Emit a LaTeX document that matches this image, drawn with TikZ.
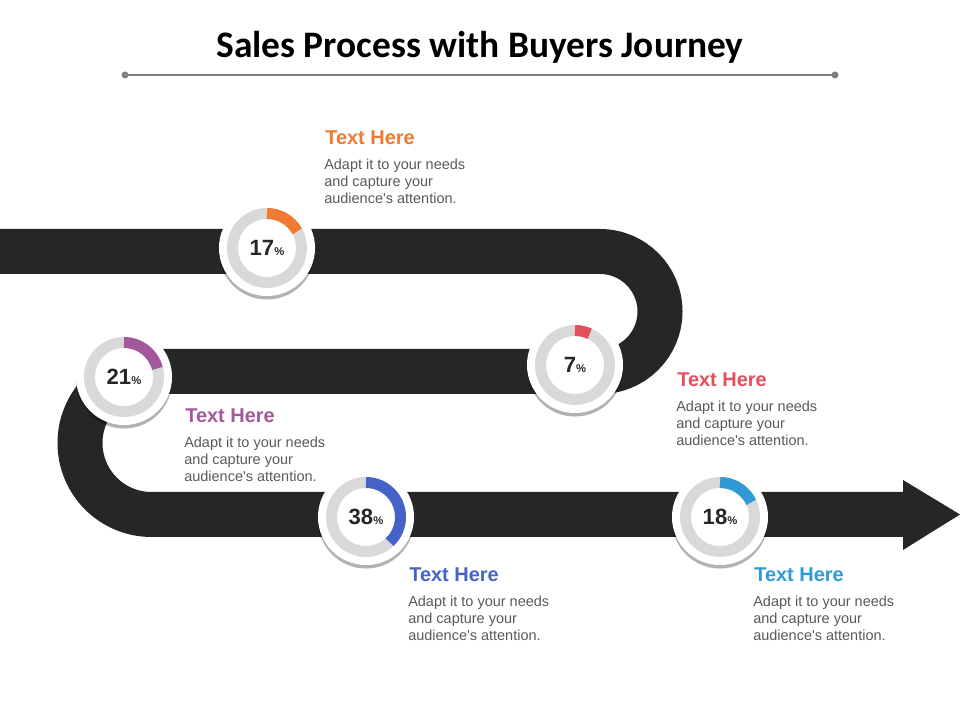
\documentclass[tikz,border=0pt]{standalone}
\usepackage{fontspec}
\setmainfont{Liberation Sans}
\newfontfamily\titlefont{Carlito}
\usetikzlibrary{shadows}

\definecolor{roadgray}{HTML}{262626}
\definecolor{ringgray}{HTML}{D9D9D9}
\definecolor{bodygray}{HTML}{595959}
\definecolor{rulegray}{HTML}{808080}
\definecolor{cOrange}{HTML}{EF7A32}
\definecolor{cRed}{HTML}{E3505A}
\definecolor{cPurple}{HTML}{A3579C}
\definecolor{cBlue}{HTML}{4563C6}
\definecolor{cSky}{HTML}{2F9AD4}

\tikzset{
  road/.style={draw=roadgray, line width=32pt},
  disc/.style={circle, fill=white, inner sep=0pt, minimum size=68.3pt,
    font=\bfseries\fontsize{15.7}{16}\selectfont, text=roadgray,
    drop shadow={shadow xshift=0pt, shadow yshift=-2.5pt, opacity=0.3, fill=black}},
  ring/.style={line width=7.8pt},
  head/.style={inner sep=0pt, font=\bfseries\fontsize{14.2}{16}\selectfont},
  body/.style={inner sep=0pt, align=left, text=bodygray,
    font=\fontsize{10.3}{12}\selectfont},
}

\begin{document}
\begin{tikzpicture}[x=0.025cm, y=0.025cm]
\useasboundingbox (0,0) rectangle (960,720);

% title
\node[font=\titlefont\bfseries\fontsize{26.6}{30}\selectfont] (title) at (480,673) {Sales Process with Buyers Journey};
\coordinate (rl) at (125,645);
\coordinate (rr) at (835,645);
\draw[rulegray, line width=1.4pt] (rl) -- (rr);
\fill[rulegray] (rl) circle (3.5) (rr) circle (3.5);

% road
\draw[road] (0,468.5) -- (600,468.5) arc[start angle=90, end angle=-90, radius=60]
  -- (151.5,348.5) arc[start angle=90, end angle=270, radius=71.5] -- (904,205.5);
\fill[roadgray] (903,240) -- (960,205.5) -- (903,170) -- cycle;

% donuts
\foreach \n/\x/\y/\p/\c in {a/267/472/17/cOrange, b/575/355/7/cRed, c/124/343/21/cPurple,
    d/366/203/38/cBlue, e/720/203/18/cSky}{
  \node[disc] (d\n) at (\x,\y) {\p{\fontsize{8}{8}\selectfont\%}};
  \draw[ring, ringgray] (d\n.center) circle (34.5);
  \draw[ring, \c] ([shift={(90:34.5)}]d\n.center) arc[start angle=90, end angle=90-3.6*\p, radius=34.5];
}

% texts
\foreach \n/\x/\y/\c in {a/325/575/cOrange, b/677/333/cRed, c/185/297/cPurple,
    d/409/138/cBlue, e/754/138/cSky}{
  \node[head, text=\c, anchor=base west] (h\n) at (\x,\y) {Text Here};
  \node[body, anchor=north west] (b\n) at (\x-1,\y-13.5) {Adapt it to your needs\\and capture your\\audience\textquotesingle s attention.};
}
\end{tikzpicture}
\end{document}
